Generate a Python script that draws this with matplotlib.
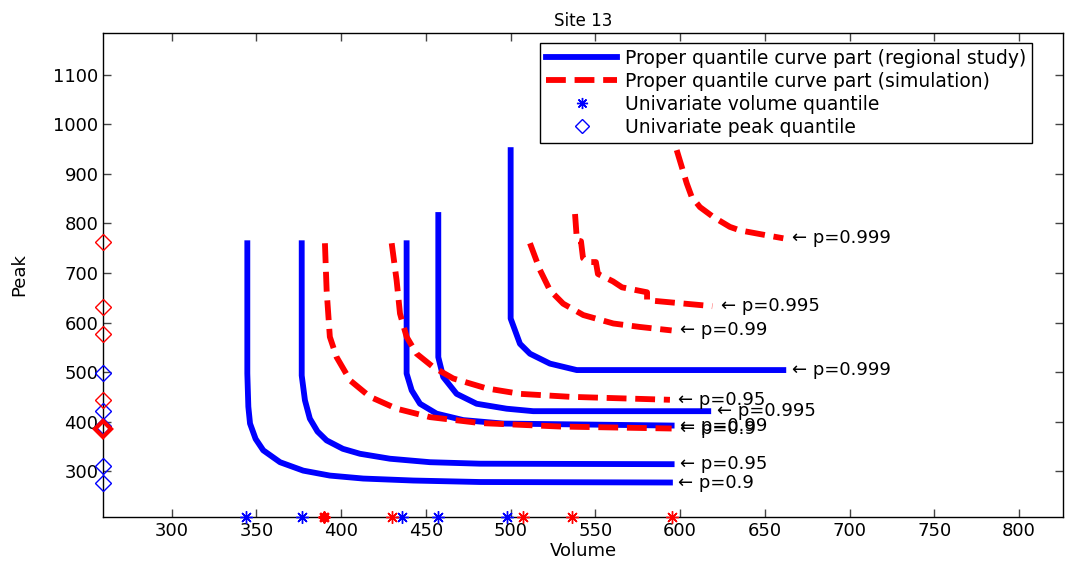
import numpy as np
from matplotlib import pyplot as plt
from matplotlib.lines import Line2D

probs = ['0.9', '0.95', '0.99', '0.995', '0.999']

# proper quantile curves, regional study (blue, solid)
reg_x = [
    [344.6, 344.6, 345.2, 346.2, 349.5, 354.0, 363.9, 377.6, 393.3, 413.0, 442.5, 482.0, 594.0],
    [376.7, 376.7, 378.6, 381.5, 386.0, 391.4, 401.0, 411.1, 428.8, 452.4, 481.9, 595.0],
    [438.6, 438.6, 441.6, 446.5, 456.3, 472.0, 495.6, 595.0],
    [457.3, 457.3, 460.2, 468.1, 479.9, 497.6, 513.3, 616.6],
    [500.0, 500.0, 505.5, 511.4, 523.2, 539.0, 660.9],
]
reg_y = [
    [760, 497, 430, 396, 365, 342, 318, 301, 291, 285, 281, 278, 277],
    [760, 493, 443, 406, 380, 362, 345, 335, 325, 318, 315, 314],
    [760, 497, 463, 436, 416, 403, 396, 392],
    [817, 530, 490, 456, 436, 426, 421, 421],
    [948, 608, 557, 537, 517, 504, 504],
]

# proper quantile curves, simulation (red, dashed)
sim_x = [
    [390.4, 391.4, 393.3, 397.3, 405.3, 417.0, 432.7, 452.4, 482.0, 529.1, 595.0],
    [429.8, 432.7, 434.7, 438.6, 444.5, 454.3, 466.1, 485.8, 505.5, 535.0, 594.0],
    [511.4, 517.3, 523.2, 531.0, 542.9, 560.6, 576.3, 595.0],
    [538.0, 539.1, 541.5, 542.7, 545.6, 550.3, 551.5, 556.3, 560.4, 565.7,
     574.6, 580.5, 580.5, 619.0],
    [598.0, 601.0, 603.9, 606.8, 611.7, 619.6, 629.4, 635.3, 651.1, 660.9],
]
sim_y = [
    [760, 665, 571, 530, 483, 450, 426, 409, 397, 390, 386],
    [760, 685, 618, 571, 537, 510, 487, 467, 456, 450, 444],
    [760, 706, 665, 638, 615, 598, 591, 584],
    [819, 766, 764, 730, 722, 722, 698, 690, 683, 671, 665, 661, 645, 633],
    [948, 914, 881, 854, 833, 813, 793, 786, 776, 770],
]

# univariate quantiles
vol_reg = [344, 377, 436, 457, 498]
peak_reg = [277, 310, 392, 421, 498]
vol_sim = [390, 430, 507, 536, 595]
peak_sim = [385, 443, 577, 631, 762]

xmin, xmax = 259.6, 825.8
ymin, ymax = 208, 1185

plt.rcParams['font.family'] = 'DejaVu Sans'
fig = plt.figure(figsize=(10.67, 5.65), dpi=100)
ax = fig.add_axes([0.0968, 0.0855, 0.8992, 0.8566])

for xs, ys in zip(reg_x, reg_y):
    ax.plot(xs, ys, color='#0000ff', lw=4.2, solid_joinstyle='round')
for xs, ys in zip(sim_x, sim_y):
    ax.plot(xs, ys, color='#ff0000', lw=4.2, dashes=(3.4, 1.5))

star = (8, 2, 0)
ax.plot(vol_reg, [ymin] * len(vol_reg), ls='none', marker=star, ms=9,
        mec='#0000ff', mew=1, clip_on=False, zorder=5)
ax.plot(vol_sim, [ymin] * len(vol_sim), ls='none', marker=star, ms=9,
        mec='#ff0000', mew=1, clip_on=False, zorder=5)
ax.plot(vol_sim[:1], [ymin], ls='none', marker=star, ms=8,
        mec='#ff0000', mew=2, clip_on=False, zorder=5)
ax.plot([xmin] * len(peak_reg), peak_reg, ls='none', marker='D', ms=8,
        mfc='none', mec='#0000ff', mew=1, clip_on=False, zorder=5)
ax.plot([xmin] * len(peak_sim), peak_sim, ls='none', marker='D', ms=8,
        mfc='none', mec='#ff0000', mew=1, clip_on=False, zorder=5)
ax.plot([xmin], peak_sim[:1], ls='none', marker='D', ms=8,
        mfc='none', mec='#ff0000', mew=3, clip_on=False, zorder=5)

# labels at the end of each curve
for xs, ys, p in zip(reg_x, reg_y, probs):
    ax.annotate('\u2190 p=' + p, xy=(xs[-1], ys[-1]), xytext=(6, 0),
                textcoords='offset points', va='center', ha='left', fontsize=13)
for xs, ys, p in zip(sim_x, sim_y, probs):
    ax.annotate('\u2190 p=' + p, xy=(xs[-1], ys[-1]), xytext=(6, 0),
                textcoords='offset points', va='center', ha='left', fontsize=13)

ax.set_xlim(xmin, xmax)
ax.set_ylim(ymin, ymax)
ax.set_xticks(np.arange(300, 801, 50))
ax.set_yticks(np.arange(300, 1101, 100))
ax.tick_params(direction='in', top=True, right=True, length=6, width=1,
               color='#444444', labelsize=13)
for s in ax.spines.values():
    s.set_linewidth(1)

ax.set_title('Site 13', fontsize=12, pad=5)
ax.set_xlabel('Volume', fontsize=13, labelpad=2)
ax.set_ylabel('Peak', fontsize=13, labelpad=18)

handles = [
    Line2D([], [], color='#0000ff', lw=4.2),
    Line2D([], [], color='#ff0000', lw=4.2, dashes=(3.4, 1.5)),
    Line2D([], [], ls='none', marker=star, ms=8, mec='#0000ff', mew=1),
    Line2D([], [], ls='none', marker='D', ms=7, mfc='none', mec='#0000ff', mew=1),
]
labels = ['Proper quantile curve part (regional study)',
          'Proper quantile curve part (simulation)',
          'Univariate volume quantile',
          'Univariate peak quantile']
leg = ax.legend(handles, labels, loc='upper right', bbox_to_anchor=(0.9677, 0.979),
                borderaxespad=0, fancybox=False, framealpha=1, edgecolor='black',
                fontsize=13.5, handlelength=3.8, handletextpad=0.4,
                labelspacing=0.22, borderpad=0.3)
leg.get_frame().set_linewidth(1)

fig.savefig('out.png', dpi=100)
